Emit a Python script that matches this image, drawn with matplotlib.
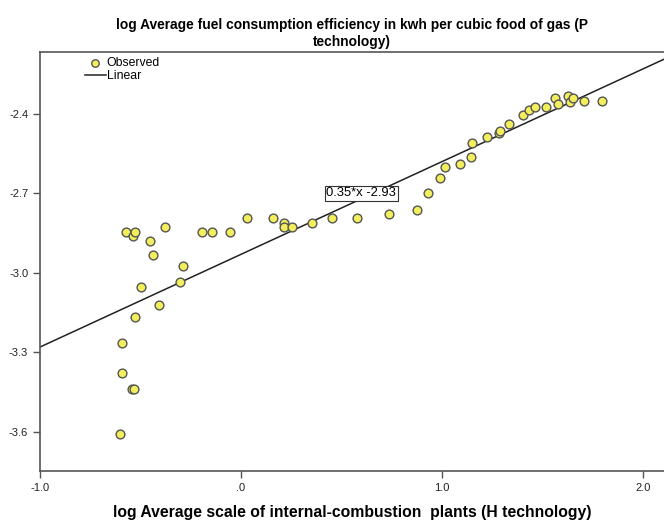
import matplotlib
matplotlib.use("Agg")
import matplotlib.pyplot as plt
import numpy as np

plt.rcParams['font.family'] = ['Liberation Sans', 'DejaVu Sans']

# observed points
x_obs = [-0.602, -0.592, -0.592, -0.542, -0.532, -0.527, -0.499, -0.408, -0.303, -0.290,
         -0.436, -0.453, -0.574, -0.539, -0.527, -0.377, -0.193, -0.143, -0.056, 0.029,
         0.158, 0.215, 0.215, 0.254, 0.355, 0.451, 0.579, 0.738, 0.877, 0.929,
         0.992, 1.013, 1.090, 1.143, 1.149, 1.222, 1.282, 1.290, 1.333, 1.401,
         1.433, 1.464, 1.517, 1.561, 1.579, 1.625, 1.637, 1.650, 1.705, 1.795]
y_obs = [-3.609, -3.263, -3.378, -3.439, -3.439, -3.167, -3.055, -3.120, -3.034, -2.973,
         -2.934, -2.880, -2.845, -2.861, -2.845, -2.827, -2.845, -2.845, -2.845, -2.793,
         -2.793, -2.811, -2.828, -2.827, -2.813, -2.792, -2.792, -2.778, -2.762, -2.700,
         -2.642, -2.601, -2.588, -2.561, -2.510, -2.486, -2.473, -2.463, -2.438, -2.405,
         -2.384, -2.372, -2.372, -2.341, -2.361, -2.331, -2.354, -2.340, -2.351, -2.351]

slope = 0.35
intercept = -2.93

xticks = [-1.0, 0.0, 1.0, 2.0]
xtick_labels = ["-1.0", ".0", "1.0", "2.0"]
yticks = [-3.6, -3.3, -3.0, -2.7, -2.4]
ytick_labels = ["-3.6", "-3.3", "-3.0", "-2.7", "-2.4"]

fig = plt.figure(figsize=(6.64, 5.21), dpi=100)
ax = fig.add_axes([40 / 664, 50 / 521, 1 - 40 / 664, (471 - 52) / 521])

xmin, xmax = -1.0, 2.105
ymin, ymax = -3.748, -2.166

xl = np.array([xmin, xmax])
ax.plot(xl, slope * xl + intercept, color="#222222", lw=1.1, label="Linear", zorder=2)
ax.scatter(x_obs, y_obs, s=40, facecolor="#f2ee5c", edgecolor="#555555", linewidth=1.0,
           label="Observed", zorder=3)

ax.text(0.425, -2.70, "0.35*x -2.93", fontsize=9.4, ha="left", va="center",
        bbox=dict(boxstyle="square,pad=0.1", facecolor="white", edgecolor="#333333", lw=0.8),
        zorder=4)

ax.set_xlim(xmin, xmax)
ax.set_ylim(ymin, ymax)
ax.set_xticks(xticks)
ax.set_xticklabels(xtick_labels)
ax.set_yticks(yticks)
ax.set_yticklabels(ytick_labels)
ax.tick_params(labelsize=8, length=5, width=1, color="#555555", labelcolor="#222222")
for side in ["left", "bottom", "top"]:
    ax.spines[side].set_color("#555555")
    ax.spines[side].set_linewidth(1.2)
ax.spines["right"].set_visible(False)

h, l = ax.get_legend_handles_labels()
ax.legend(h[::-1], l[::-1], loc="upper left", bbox_to_anchor=(0.058, 1.008), frameon=False,
          fontsize=8.8, handlelength=1.7, handletextpad=0.1, labelspacing=0.08,
          borderpad=0.2, markerscale=0.85)

ax.set_title("log Average fuel consumption efficiency in kwh per cubic food of gas (P\ntechnology)",
             fontsize=9.9, fontweight="bold", pad=4.5, linespacing=1.25)
ax.set_xlabel("log Average scale of internal-combustion  plants (H technology)",
              fontsize=11.3, fontweight="bold", labelpad=9)

fig.savefig("out.png", dpi=100)
